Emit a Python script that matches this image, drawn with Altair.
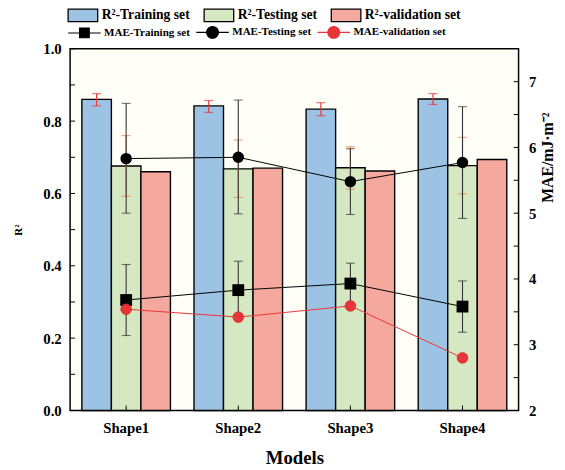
import altair as alt
import pandas as pd

# ---------------- data ----------------
models = ["Shape1", "Shape2", "Shape3", "Shape4"]
r2_sets = ["R²-Training set", "R²-Testing set", "R²-validation set"]
r2_train = [0.860, 0.842, 0.833, 0.861]
r2_train_lo = [0.842, 0.824, 0.815, 0.846]
r2_train_hi = [0.876, 0.857, 0.851, 0.876]
r2_test = [0.676, 0.668, 0.671, 0.677]
r2_test_lo = [0.592, 0.589, 0.612, 0.599]
r2_test_hi = [0.760, 0.748, 0.729, 0.755]
r2_val = [0.660, 0.670, 0.662, 0.694]

mae_sets = ["MAE-Training set", "MAE-Testing set", "MAE-validation set"]
mae_train = [3.68, 3.83, 3.93, 3.58]
mae_train_lo = [3.14, 3.40, 3.62, 3.19]
mae_train_hi = [4.22, 4.27, 4.24, 3.97]
mae_test = [5.83, 5.85, 5.48, 5.77]
mae_test_lo = [5.00, 4.99, 4.98, 4.92]
mae_test_hi = [6.67, 6.72, 5.98, 6.62]
mae_val = [3.54, 3.42, 3.59, 2.80]

left_ticks = [0.0, 0.2, 0.4, 0.6, 0.8, 1.0]
left_minor = [0.1, 0.3, 0.5, 0.7, 0.9]
right_ticks = [2, 3, 4, 5, 6, 7]
right_minor = [2.5, 3.5, 4.5, 5.5, 6.5]

# ---------------- tables ----------------
bars_df = pd.DataFrame({
    "Model": models * 3,
    "Set": [r2_sets[0]] * 4 + [r2_sets[1]] * 4 + [r2_sets[2]] * 4,
    "R2": r2_train + r2_test + r2_val,
})
r2_train_err = pd.DataFrame({"Model": models, "Set": [r2_sets[0]] * 4, "lo": r2_train_lo, "hi": r2_train_hi})
r2_test_err = pd.DataFrame({"Model": models, "Set": [r2_sets[1]] * 4, "lo": r2_test_lo, "hi": r2_test_hi})

mae_df = pd.DataFrame({
    "Model": models * 3,
    "Series": [mae_sets[0]] * 4 + [mae_sets[1]] * 4 + [mae_sets[2]] * 4,
    "MAE": mae_train + mae_test + mae_val,
})
mae_err = pd.DataFrame({
    "Model": models * 2,
    "lo": mae_train_lo + mae_test_lo,
    "hi": mae_train_hi + mae_test_hi,
})

BLUE, GREEN, PINK = "#9DC3E4", "#D5E8C2", "#F4A89E"
RED = "#E8353A"
FONT = "Liberation Serif"
W, H = 455, 367

X = alt.X("Model:N", sort=models,
          scale=alt.Scale(paddingInner=0.21, paddingOuter=0.105),
          axis=alt.Axis(title="Models", ticks=False, domain=False, labelAngle=0,
                        labelPadding=10, titlePadding=14, labelFontSize=15,
                        titleFontSize=19))
XO = alt.XOffset("Set:N", sort=r2_sets,
                 scale=alt.Scale(domain=r2_sets, paddingInner=0, paddingOuter=0))

left_axis = alt.Axis(values=left_ticks, format=".1f", title="R²", ticks=False,
                     domain=False, grid=False, labelPadding=9, titlePadding=20,
                     labelFontSize=15, titleFontSize=11)


def YL(field):
    return alt.Y(f"{field}:Q", scale=alt.Scale(domain=[0, 1], nice=False, zero=True),
                 axis=left_axis)


right_axis = alt.Axis(orient="right", values=right_ticks, title="MAE/mJ·m⁻²",
                      ticks=False, domain=False, grid=False, labelPadding=10,
                      titleX=29.5, titleY=110, titleAngle=270, titleAlign="center",
                      titleBaseline="middle", labelFontSize=15, titleFontSize=16)


def YR(field):
    return alt.Y(f"{field}:Q", scale=alt.Scale(domain=[2, 7.5], nice=False, zero=False),
                 axis=right_axis)


bar_legend = alt.Legend(
    title=None, orient="none", legendX=-3, legendY=-50, direction="horizontal",
    symbolType="M-1,-0.42H1V0.42H-1Z", symbolSize=900, symbolStrokeColor="black",
    symbolStrokeWidth=1.3, labelFontSize=13.8, labelFont=FONT, labelFontWeight="bold",
    labelOffset=3, columnPadding=11, padding=0, labelLimit=300,
)

bars = alt.Chart(bars_df).mark_bar(stroke="black", strokeWidth=1.4).encode(
    x=X, xOffset=XO, y=YL("R2"),
    fill=alt.Fill("Set:N", sort=r2_sets,
                  scale=alt.Scale(domain=r2_sets, range=[BLUE, GREEN, PINK]),
                  legend=bar_legend),
)


def errbar(df, color, field_lo="lo", field_hi="hi", yfun=YL, offset=True, width=9, sw=1.2):
    enc = dict(x=alt.X("Model:N", sort=models))
    if offset:
        enc["xOffset"] = XO
    rule = alt.Chart(df).mark_rule(color=color, strokeWidth=sw).encode(
        y=yfun(field_lo), y2=alt.Y2(f"{field_hi}:Q"), **enc)
    cap_lo = alt.Chart(df).mark_tick(color=color, thickness=sw, size=width).encode(
        y=yfun(field_lo), **enc)
    cap_hi = alt.Chart(df).mark_tick(color=color, thickness=sw, size=width).encode(
        y=yfun(field_hi), **enc)
    return [rule, cap_lo, cap_hi]


left_tick_df = pd.DataFrame({"R2": left_ticks + left_minor})
left_tick_rules = alt.Chart(left_tick_df).mark_rule(color="black", strokeWidth=1).encode(
    y=YL("R2"), x=alt.value(0), x2=alt.value(5))
bottom_ticks = alt.Chart(pd.DataFrame({"Model": models})).mark_rule(
    color="black", strokeWidth=1).encode(
    x=alt.X("Model:N", sort=models), y=alt.value(H), y2=alt.value(H - 5))

left = alt.layer(
    bars,
    *errbar(r2_train_err, RED),
    *errbar(r2_test_err, "#E8824A"),
    left_tick_rules,
    bottom_ticks,
)

# ----- right (MAE) layers -----
mae_err_layers = errbar(mae_err, "#333333", yfun=YR, offset=False, width=9, sw=1.1)

line_colors = ["black", "black", RED]
lines = [
    alt.Chart(mae_df).transform_filter(alt.datum.Series == s).mark_line(
        color=c, strokeWidth=1).encode(x=alt.X("Model:N", sort=models), y=YR("MAE"))
    for s, c in zip(mae_sets, line_colors)
]
pt_train = alt.Chart(mae_df).transform_filter(alt.datum.Series == mae_sets[0]).mark_point(
    shape="square", filled=True, color="black", size=144, opacity=1).encode(
    x=alt.X("Model:N", sort=models), y=YR("MAE"))
pt_test = alt.Chart(mae_df).transform_filter(alt.datum.Series == mae_sets[1]).mark_point(
    shape="circle", filled=True, color="black", size=135, opacity=1).encode(
    x=alt.X("Model:N", sort=models), y=YR("MAE"))
pt_val = alt.Chart(mae_df).transform_filter(alt.datum.Series == mae_sets[2]).mark_point(
    shape="circle", filled=True, color=RED, size=120, opacity=1,
    stroke="#C82020", strokeWidth=0.6).encode(
    x=alt.X("Model:N", sort=models), y=YR("MAE"))

SQ = "M-1.1,0H1.1M-0.33,-0.33H0.33V0.33H-0.33Z"
CI = "M-1.1,0H1.1M0.4,0A0.4,0.4,0,1,1,-0.4,0A0.4,0.4,0,1,1,0.4,0Z"


def mae_legend():
    return alt.Legend(
        title=None, orient="none", legendX=-1.5, legendY=-33, direction="horizontal",
        symbolSize=900, symbolStrokeWidth=1.1, symbolOpacity=1,
        labelFontSize=11.2, labelFont=FONT, labelFontWeight="bold",
        labelOffset=4, columnPadding=3, padding=0, labelLimit=300,
    )


legend_layer = alt.Chart(mae_df).mark_point(filled=True, opacity=0).encode(
    x=alt.X("Model:N", sort=models), y=YR("MAE"),
    color=alt.Color("Series:N", sort=mae_sets,
                    scale=alt.Scale(domain=mae_sets, range=line_colors), legend=mae_legend()),
    stroke=alt.Stroke("Series:N", sort=mae_sets,
                      scale=alt.Scale(domain=mae_sets, range=line_colors), legend=mae_legend()),
    shape=alt.Shape("Series:N", sort=mae_sets,
                    scale=alt.Scale(domain=mae_sets, range=[SQ, CI, CI]), legend=mae_legend()),
)

right_tick_df = pd.DataFrame({"MAE": right_ticks + right_minor})
right_tick_rules = alt.Chart(right_tick_df).mark_rule(color="black", strokeWidth=1).encode(
    y=YR("MAE"), x=alt.value(W), x2=alt.value(W - 5))

right = alt.layer(
    *mae_err_layers,
    *lines,
    pt_train, pt_test, pt_val,
    legend_layer,
    right_tick_rules,
)

chart = alt.layer(left, right).resolve_scale(
    y="independent", color="independent", stroke="independent", shape="independent"
).properties(
    width=W, height=H,
    autosize=alt.AutoSizeParams(type="none"),
    padding={"left": 63, "top": 38, "right": 39, "bottom": 57},
    background="white",
).configure(font=FONT).configure_view(
    stroke="black", strokeWidth=1.5, fill="#FFFFF7"
).configure_axis(
    labelFont=FONT, titleFont=FONT, labelFontWeight="bold", titleFontWeight="bold",
    labelColor="black", titleColor="black",
)

chart.save("out.html", embed_options={"renderer": "svg", "actions": False})
